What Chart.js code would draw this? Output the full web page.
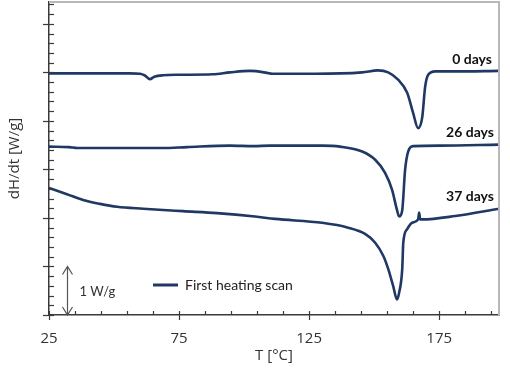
<!DOCTYPE html>
<html>
<head>
<meta charset="utf-8">
<script src="https://cdn.jsdelivr.net/npm/chart.js@4"></script>
<style>
  html, body { margin: 0; padding: 0; background: #fff; }
</style>
</head>
<body>
<canvas id="dscChart" width="510" height="376"></canvas>
<script>
// temperatures (°C) and heat flow (W/g, curves shifted)
const temp0 = [25, 56, 60, 62, 63.8, 65.5, 68.8, 75, 88, 94.6, 102.3, 108.8, 110.8, 127.3, 145.4, 151.5, 155.4, 159.2, 162.7, 165, 166.9, 168.5, 169.6, 170.8, 173.5, 181.2, 198];
const heat0 = [4.98, 4.98, 4.97, 4.93, 4.86, 4.91, 4.94, 4.95, 4.96, 5.0, 5.03, 4.99, 4.97, 4.97, 5.0, 5.04, 5.0, 4.85, 4.58, 4.16, 3.85, 4.08, 4.70, 4.95, 5.02, 5.02, 5.03];

const temp26 = [25, 32.7, 36, 68.8, 78.1, 94.6, 103.5, 110, 130, 136.9, 145.4, 150.4, 154.2, 156.9, 158.8, 159.6, 160.8, 161.9, 163.1, 165, 175.4, 198];
const heat26 = [3.47, 3.46, 3.44, 3.44, 3.46, 3.49, 3.48, 3.49, 3.49, 3.47, 3.37, 3.20, 2.93, 2.58, 2.16, 2.03, 2.16, 2.99, 3.37, 3.48, 3.49, 3.51];

const temp37 = [25, 31.9, 38.1, 44.6, 51.2, 61.2, 76.5, 89.6, 104.2, 111.9, 130, 140, 146.5, 150.4, 153.5, 155.4, 157.3, 158.8, 159.6, 160.8, 161.2, 162.7, 164.6, 166.9, 167.3, 167.7, 168.5, 181.2, 198];
const heat37 = [2.62, 2.49, 2.37, 2.29, 2.23, 2.19, 2.14, 2.10, 2.03, 1.98, 1.90, 1.80, 1.67, 1.49, 1.22, 0.95, 0.60, 0.32, 0.46, 0.95, 1.49, 1.77, 1.90, 1.97, 2.11, 1.97, 1.97, 2.04, 2.19];

const curveNames = ['0 days', '26 days', '37 days'];
const xTicks = [25, 35, 45, 55, 65, 75, 85, 95, 105, 115, 125, 135, 145, 155, 165, 175, 185, 195];
const xLabels = [25, 75, 125, 175];
const yTicks = [0, 0.2, 0.4, 0.6, 0.8, 1, 1.2, 1.4, 1.6, 1.8, 2, 2.2, 2.4, 2.6, 2.8, 3, 3.2, 3.4, 3.6, 3.8, 4, 4.2, 4.4, 4.6, 4.8, 5, 5.2, 5.4, 5.6, 5.8, 6, 6.2, 6.4];

const navy = '#1f3864';
const axisGrey = '#3a3a3a';

const toPoints = (xs, ys) => xs.map((t, i) => ({ x: t, y: ys[i] }));

// tick marks, frame, curve labels, legend and scale arrow
const decor = {
  id: 'decor',
  afterDraw(chart) {
    const { ctx, chartArea: a, scales: { x, y } } = chart;
    ctx.save();

    ctx.strokeStyle = '#b8b8b8';
    ctx.lineWidth = 2;
    ctx.beginPath();
    ctx.moveTo(a.left, a.top);
    ctx.lineTo(a.right, a.top);
    ctx.lineTo(a.right, a.bottom);
    ctx.stroke();

    ctx.strokeStyle = axisGrey;
    ctx.lineWidth = 1.2;
    x.ticks.forEach(t => {
      const px = Math.round(x.getPixelForValue(t.value)) + 0.5;
      const major = xLabels.includes(t.value);
      ctx.beginPath();
      ctx.moveTo(px, a.bottom - 4);
      ctx.lineTo(px, a.bottom + (major ? 5 : 0));
      ctx.stroke();
    });
    y.ticks.forEach(t => {
      const py = Math.round(y.getPixelForValue(t.value)) + 0.5;
      const major = Math.abs(t.value - Math.round(t.value)) < 1e-6;
      ctx.beginPath();
      ctx.moveTo(a.left + 5, py);
      ctx.lineTo(a.left - (major ? 6 : 0), py);
      ctx.stroke();
    });

    // curve names
    ctx.fillStyle = '#111';
    ctx.font = 'bold 14px Lato';
    ctx.textAlign = 'right';
    ctx.textBaseline = 'middle';
    ctx.fillText(curveNames[0], a.right - 7, 59);
    ctx.fillText(curveNames[1], a.right - 5, 132);
    ctx.fillText(curveNames[2], a.right - 5, 196);

    // legend
    ctx.strokeStyle = navy;
    ctx.lineWidth = 3;
    ctx.beginPath();
    ctx.moveTo(153, 285);
    ctx.lineTo(178, 285);
    ctx.stroke();
    ctx.fillStyle = '#222';
    ctx.font = '14px Lato';
    ctx.textAlign = 'left';
    ctx.fillText('First heating scan', 185, 285);

    // 1 W/g scale arrow
    const ax = Math.round(x.getPixelForValue(32)) + 0.5;
    const y0 = y.getPixelForValue(0);
    const y1 = y.getPixelForValue(1);
    ctx.strokeStyle = '#555';
    ctx.lineWidth = 1.2;
    ctx.beginPath();
    ctx.moveTo(ax, y0); ctx.lineTo(ax, y1);
    ctx.moveTo(ax - 5, y1 + 8); ctx.lineTo(ax, y1); ctx.lineTo(ax + 5, y1 + 8);
    ctx.moveTo(ax - 5, y0 - 8); ctx.lineTo(ax, y0); ctx.lineTo(ax + 5, y0 - 8);
    ctx.stroke();
    ctx.fillStyle = '#333';
    ctx.font = '13px Lato';
    ctx.fillText('1 W/g', ax + 12, (y0 + y1) / 2 + 1);

    ctx.restore();
  }
};

const series = [toPoints(temp0, heat0), toPoints(temp26, heat26), toPoints(temp37, heat37)];

new Chart(document.getElementById('dscChart'), {
  type: 'line',
  data: {
    datasets: series.map((pts, i) => ({
      label: curveNames[i],
      data: pts,
      borderColor: navy,
      borderWidth: 2.6,
      pointRadius: 0,
      fill: false,
      cubicInterpolationMode: 'monotone'
    }))
  },
  options: {
    responsive: false,
    animation: false,
    layout: { padding: { top: 2, right: 11 } },
    plugins: { legend: { display: false }, tooltip: { enabled: false } },
    scales: {
      x: {
        type: 'linear',
        min: 25,
        max: 198,
        afterBuildTicks: s => { s.ticks = xTicks.map(v => ({ value: v })); },
        afterFit: s => { s.height = 61; },
        grid: { display: false },
        border: { color: axisGrey, width: 1.5 },
        ticks: {
          autoSkip: false,
          maxRotation: 0,
          padding: 7,
          color: '#333',
          font: { family: 'Open Sans', size: 15 },
          callback: v => (xLabels.includes(v) ? String(v) : '')
        },
        title: {
          display: true,
          text: 'T [°C]',
          color: '#333',
          font: { family: 'Open Sans', size: 15 },
          padding: { top: 0, bottom: 11 }
        }
      },
      y: {
        min: 0,
        max: 6.45,
        afterBuildTicks: s => { s.ticks = yTicks.map(v => ({ value: v })); },
        afterFit: s => { s.width = 49; },
        grid: { display: false },
        border: { color: axisGrey, width: 1.5 },
        ticks: { display: false },
        title: {
          display: true,
          text: 'dH/dt [W/g]',
          color: '#333',
          font: { family: 'Open Sans', size: 15 },
          padding: { top: 6, bottom: 0 }
        }
      }
    }
  },
  plugins: [decor]
});
</script>
</body>
</html>
